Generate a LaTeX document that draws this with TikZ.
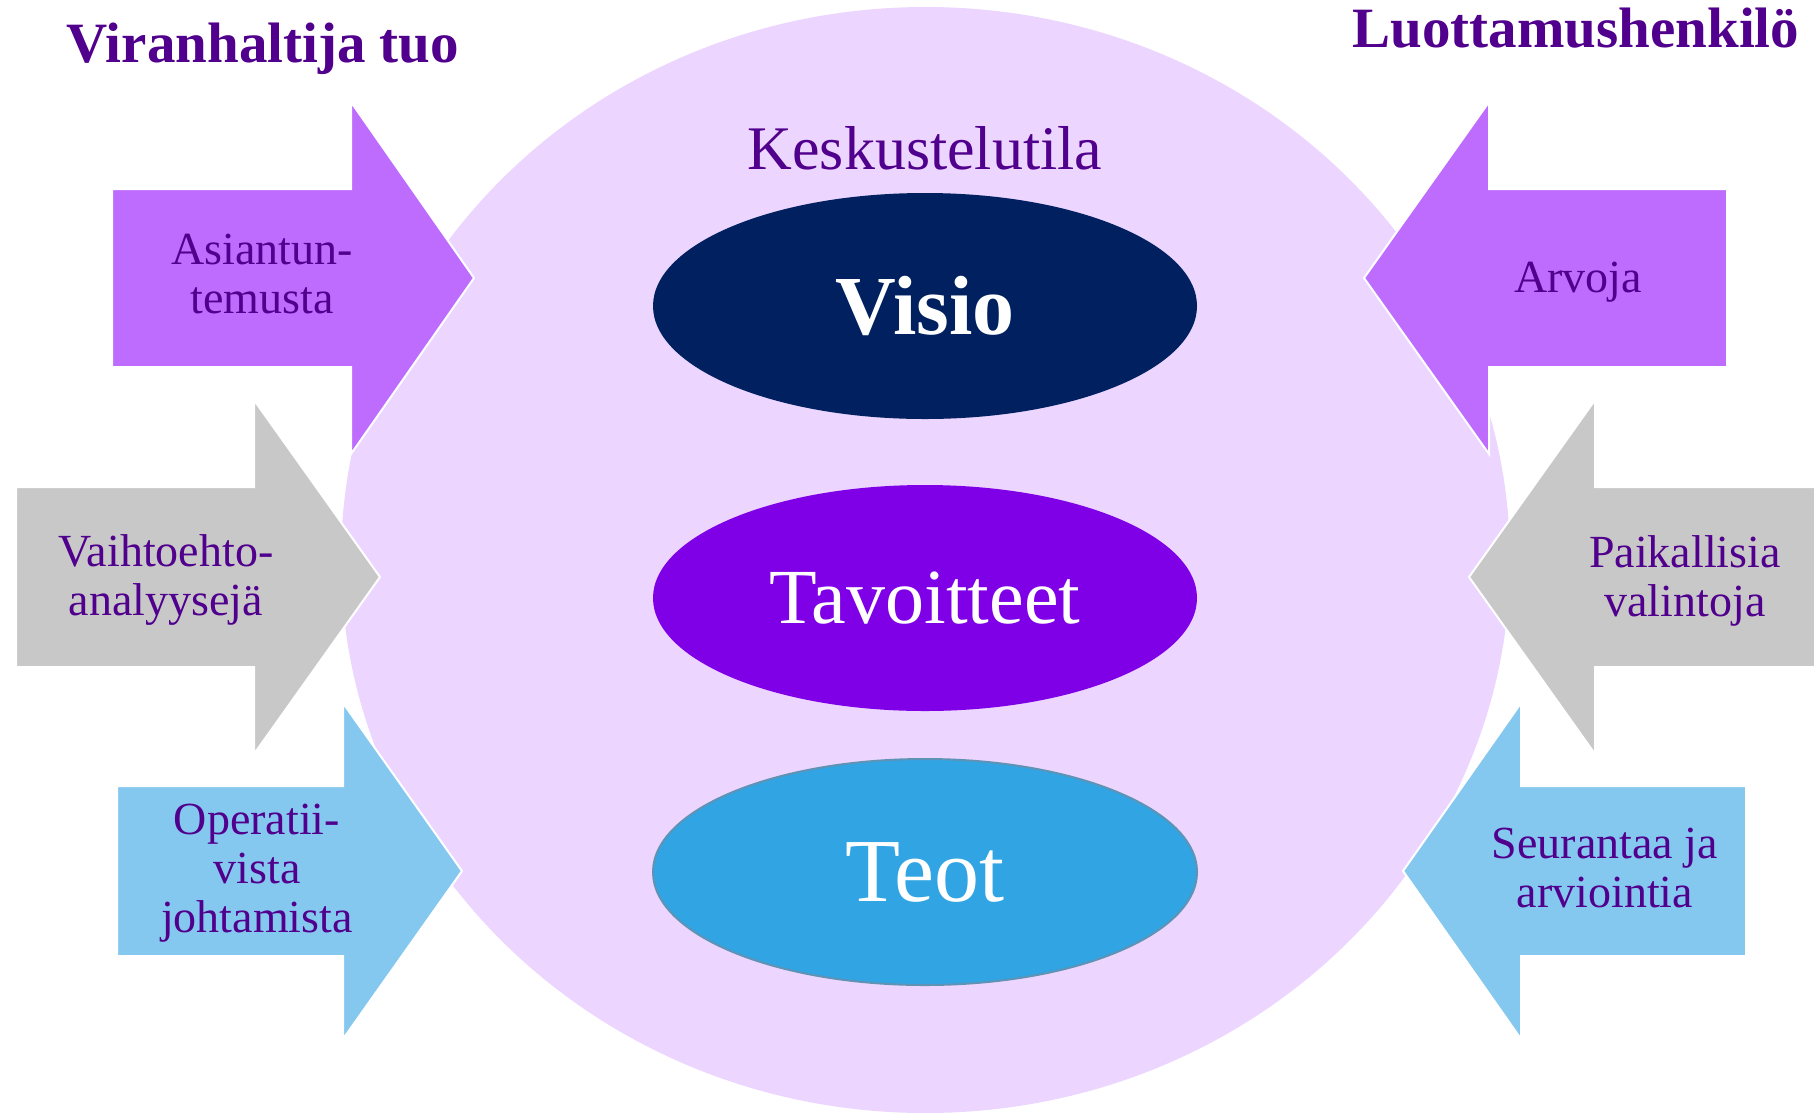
\documentclass[tikz,border=0pt]{standalone}
\usepackage{fontspec}
\setmainfont{Liberation Serif}
\usetikzlibrary{shapes.geometric}

\definecolor{roomlilac}{RGB}{236,213,254}
\definecolor{arrowviolet}{RGB}{190,108,253}
\definecolor{arrowgray}{RGB}{200,200,200}
\definecolor{arrowsky}{RGB}{133,200,239}
\definecolor{visionavy}{RGB}{0,32,96}
\definecolor{goalviolet}{RGB}{127,0,231}
\definecolor{deedblue}{RGB}{49,164,228}
\definecolor{deededge}{RGB}{94,147,181}
\definecolor{inkpurple}{RGB}{80,0,140}

\begin{document}
\begin{tikzpicture}[x=1pt, y=-1pt,
  blockarrow/.style={draw=white, line width=2pt, line join=miter},
  arrowtext/.style={text=inkpurple, font=\fontsize{46}{49}\selectfont, align=center, anchor=base},
  headtext/.style={text=inkpurple, font=\bfseries\fontsize{57}{60}\selectfont, anchor=base},
  oval/.style={ellipse, minimum width=544pt, minimum height=226pt, inner sep=0pt, text=white}]
\clip (0,0) rectangle (1814,1112);

% discussion space
\fill [roomlilac] (925.5,560) ellipse [x radius=584.5pt, y radius=553pt];

% arrows from the left
\filldraw [blockarrow, fill=arrowviolet] (112,189) -- (351,189) -- (351,102) -- (474,278)
  -- (351,454) -- (351,367) -- (112,367) -- cycle;
\filldraw [blockarrow, fill=arrowgray] (16,487) -- (254,487) -- (254,400) -- (380,577)
  -- (254,754) -- (254,667) -- (16,667) -- cycle;
\filldraw [blockarrow, fill=arrowsky] (117,786) -- (343,786) -- (343,703) -- (462,871)
  -- (343,1039) -- (343,956) -- (117,956) -- cycle;

% arrows from the right
\filldraw [blockarrow, fill=arrowviolet] (1727,189) -- (1489,189) -- (1489,102) -- (1364,278)
  -- (1489,454) -- (1489,367) -- (1727,367) -- cycle;
\filldraw [blockarrow, fill=arrowgray] (1830,487) -- (1595,487) -- (1595,400) -- (1469,577)
  -- (1595,754) -- (1595,667) -- (1830,667) -- cycle;
\filldraw [blockarrow, fill=arrowsky] (1746,786) -- (1521,786) -- (1521,703) -- (1403,871)
  -- (1521,1039) -- (1521,956) -- (1746,956) -- cycle;

% the three levels
\node [oval, fill=visionavy, font=\bfseries\fontsize{84}{90}\selectfont] (visio) at (925,306) {Visio};
\node [oval, fill=goalviolet, font=\fontsize{78}{84}\selectfont] (tavoit) at (925,598) {Tavoitteet};
\node [oval, fill=deedblue, draw=deededge, line width=2pt, font=\fontsize{90}{96}\selectfont] (teot) at (925,872) {Teot};

% headings (base = last line)
\node [headtext] (viran) at (263,62) {Viranhaltija tuo};
\node [headtext] (luott) at (1576,47) {Luottamushenkilö};
\node [arrowtext, font=\fontsize{62}{66}\selectfont] (keskus) at (925,169) {Keskustelutila};

% arrow texts
\node [arrowtext] (asiant) at (262,313) {Asiantun-\\temusta};
\node [arrowtext] (vaiht) at (166,615) {Vaihtoehto-\\analyysejä};
\node [arrowtext] (operat) at (257,932) {Operatii-\\vista\\johtamista};
\node [arrowtext] (arvoja) at (1578,292) {Arvoja};
\node [arrowtext] (paikal) at (1685,616) {Paikallisia\\valintoja};
\node [arrowtext] (seur) at (1605,907) {Seurantaa ja\\arviointia};
\end{tikzpicture}
\end{document}
